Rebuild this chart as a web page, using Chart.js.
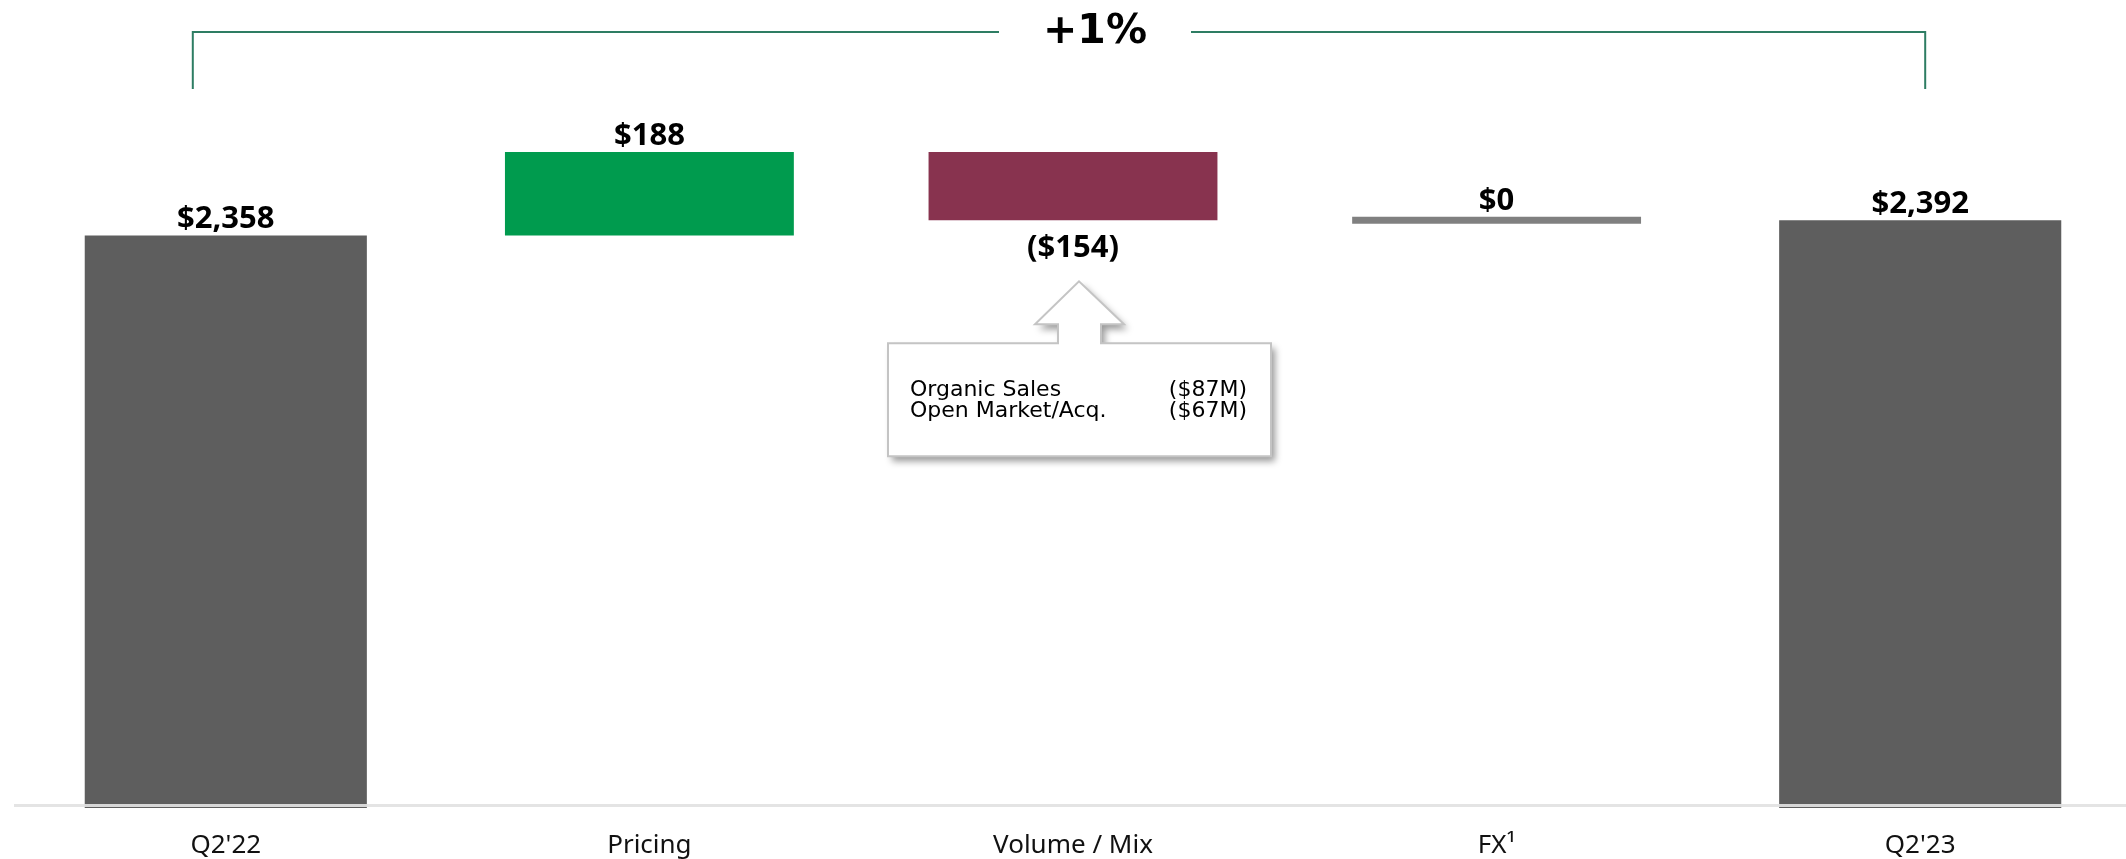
<!DOCTYPE html>
<html>
<head>
<meta charset="utf-8">
<script src="https://cdn.jsdelivr.net/npm/chart.js@4.4.1/dist/chart.umd.min.js"></script>
<style>
  html, body { margin: 0; padding: 0; background: #ffffff; overflow: hidden; }
  #wrap { position: relative; width: 2132px; height: 859px; }
</style>
</head>
<body>
<div id="wrap"><canvas id="chart"></canvas></div>
<script>
// ---- Data ----
const categories = ["Q2'22", "Pricing", "Volume / Mix", "FX\u00B9", "Q2'23"];
const startTotal = 2358;
const endTotal = 2392;
const deltaValues = [188, -154, 0];           // Pricing, Volume / Mix, FX
const valueLabels = ["$2,358", "$188", "($154)", "$0", "$2,392"];
const changeLabel = "+1%";
const calloutRows = [["Organic Sales", "($87M)"], ["Open Market/Acq.", "($67M)"]];

// ---- Build waterfall series from the values ----
const totalsData = [startTotal, null, null, null, endTotal];
const deltaData = [null];
let running = startTotal;
deltaValues.forEach(d => { deltaData.push([running, running + d]); running += d; });
deltaData.push(null);
const fxLevel = running;

const deltaColors = [null, '#009b4e', '#88334f', '#808080', null];

const valueLabelPlugin = {
  id: 'valueLabels',
  afterDatasetsDraw(chart) {
    const ctx = chart.ctx;
    const area = chart.chartArea;
    // light baseline across the chart
    ctx.save();
    ctx.fillStyle = 'rgba(226,226,226,0.92)';
    ctx.fillRect(area.left, area.bottom - 4, chart.width - area.left, 3);
    ctx.restore();

    ctx.save();
    ctx.font = 'bold 31px "Open Sans", "Noto Sans", sans-serif';
    ctx.fillStyle = '#000000';
    ctx.textAlign = 'center';
    ctx.textBaseline = 'alphabetic';
    for (let i = 0; i < categories.length; i++) {
      let el = null, negative = false;
      if (totalsData[i] !== null) {
        el = chart.getDatasetMeta(0).data[i];
      } else {
        el = chart.getDatasetMeta(1).data[i];
        negative = deltaValues[i - 1] < 0;
      }
      const top = Math.min(el.y, el.base);
      const bottom = Math.max(el.y, el.base);
      if (negative) {
        ctx.fillText(valueLabels[i], el.x, bottom + 37);
      } else {
        ctx.fillText(valueLabels[i], el.x, top - 7);
      }
    }
    ctx.restore();
  },
  afterDraw(chart) {
    const ctx = chart.ctx;
    const xs = chart.scales.x;
    // bracket across the top
    const left = xs.getPixelForValue(0) - 33;
    const right = xs.getPixelForValue(4) + 5;
    const mid = xs.getPixelForValue(2) + 22;
    const yTop = 32, yBot = 89;
    ctx.save();
    ctx.strokeStyle = '#2e7d63';
    ctx.lineWidth = 2;
    ctx.beginPath();
    ctx.moveTo(left, yBot); ctx.lineTo(left, yTop); ctx.lineTo(mid - 96, yTop);
    ctx.moveTo(mid + 96, yTop); ctx.lineTo(right, yTop); ctx.lineTo(right, yBot);
    ctx.stroke();
    ctx.font = 'bold 41px "DejaVu Sans", sans-serif';
    ctx.fillStyle = '#000000';
    ctx.textAlign = 'center';
    ctx.textBaseline = 'alphabetic';
    ctx.fillText(changeLabel, mid, 43);
    ctx.restore();

    // callout under Volume / Mix
    const vel = chart.getDatasetMeta(1).data[2];
    const ax = vel.x + 6;
    const tipY = Math.max(vel.y, vel.base) + 61;
    const headY = tipY + 43;
    const boxL = ax - 191, boxR = ax + 192, boxT = headY + 19, boxB = boxT + 113;
    ctx.save();
    ctx.beginPath();
    ctx.moveTo(boxL, boxT);
    ctx.lineTo(ax - 21, boxT);
    ctx.lineTo(ax - 21, headY);
    ctx.lineTo(ax - 44, headY);
    ctx.lineTo(ax, tipY);
    ctx.lineTo(ax + 45, headY);
    ctx.lineTo(ax + 22, headY);
    ctx.lineTo(ax + 22, boxT);
    ctx.lineTo(boxR, boxT);
    ctx.lineTo(boxR, boxB);
    ctx.lineTo(boxL, boxB);
    ctx.closePath();
    ctx.shadowColor = 'rgba(0,0,0,0.4)';
    ctx.shadowBlur = 7;
    ctx.shadowOffsetX = 4;
    ctx.shadowOffsetY = 5;
    ctx.fillStyle = '#ffffff';
    ctx.fill();
    ctx.shadowColor = 'transparent';
    ctx.strokeStyle = '#c4c4c4';
    ctx.lineWidth = 2;
    ctx.stroke();
    ctx.font = '22px "DejaVu Sans", sans-serif';
    ctx.fillStyle = '#000000';
    ctx.textBaseline = 'alphabetic';
    calloutRows.forEach((row, r) => {
      const y = boxT + 53 + r * 21;
      ctx.textAlign = 'left';
      ctx.fillText(row[0], boxL + 22, y);
      ctx.textAlign = 'right';
      ctx.fillText(row[1], boxR - 24, y);
    });
    ctx.restore();
  }
};

new Chart(document.getElementById('chart'), {
  type: 'bar',
  data: {
    labels: categories,
    datasets: [
      {
        label: 'Totals',
        data: totalsData,
        backgroundColor: '#5e5e5e',
        barPercentage: 0.666,
        categoryPercentage: 1.0,
        grouped: false
      },
      {
        label: 'Changes',
        data: deltaData,
        backgroundColor: deltaColors,
        barPercentage: 0.682,
        categoryPercentage: 1.0,
        grouped: false,
        base: fxLevel,
        minBarLength: 7
      }
    ]
  },
  options: {
    responsive: true,
    maintainAspectRatio: false,
    animation: false,
    layout: { padding: { left: 14, right: 0, top: 100, bottom: 0 } },
    plugins: { legend: { display: false }, tooltip: { enabled: false } },
    scales: {
      x: {
        grid: { display: false, drawTicks: false },
        border: { display: false },
        ticks: {
          color: '#111111',
          font: { family: '"Noto Sans", sans-serif', size: 26 },
          padding: 22,
          maxRotation: 0,
          autoSkip: false
        },
        afterFit(scale) { scale.height = 51; }
      },
      y: {
        display: false,
        min: 1069,
        max: 2663
      }
    }
  },
  plugins: [valueLabelPlugin]
});
</script>
</body>
</html>
